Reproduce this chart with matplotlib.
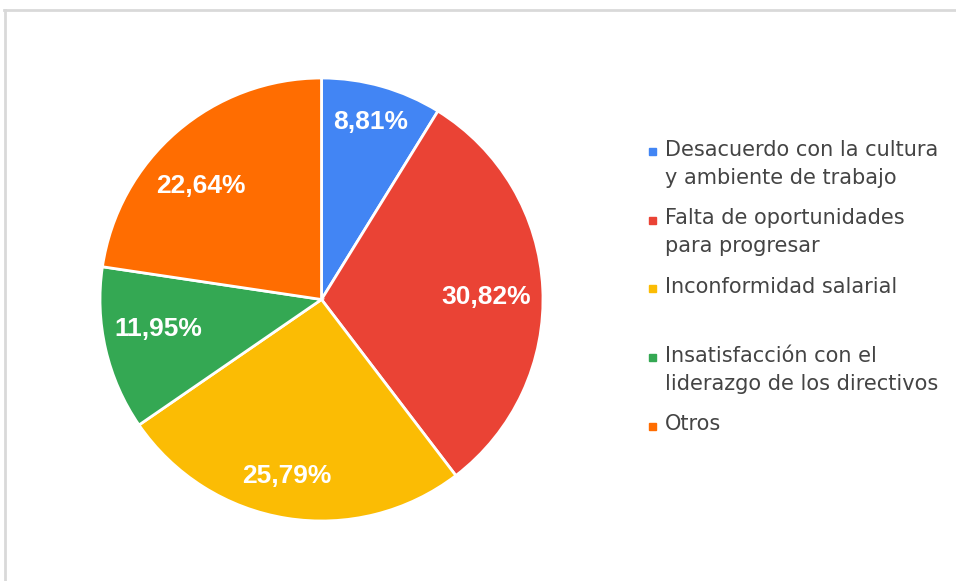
import numpy as np
import matplotlib.pyplot as plt
from matplotlib.lines import Line2D
from matplotlib.patches import Rectangle

plt.rcParams['font.family'] = ['Liberation Sans', 'DejaVu Sans']

labels = [
    "Desacuerdo con la cultura\ny ambiente de trabajo",
    "Falta de oportunidades\npara progresar",
    "Inconformidad salarial",
    "Insatisfacción con el\nliderazgo de los directivos",
    "Otros",
]
shares = [8.81, 30.82, 25.79, 11.95, 22.64]
colors = ["#4285F4", "#EA4335", "#FBBC04", "#34A853", "#FF6D01"]
# percentage labels: distance as a fraction of the radius, and a small
# angular nudge (degrees) away from the slice bisector
label_dist = [0.83, 0.745, 0.81, 0.75, 0.745]
label_nudge = [0.5, -1.8, -2.0, -2.6, 6.0]

W, H = 956, 581
fig = plt.figure(figsize=(W / 100, H / 100), dpi=100)

# pie area in pixels: center (321.5, 299.5), radius 221.5
cx, cy, r = 321.5, 299.5, 221.5
ax = fig.add_axes([(cx - r) / W, (H - cy - r) / H, 2 * r / W, 2 * r / H])
wedges, _, autotexts = ax.pie(
    shares, colors=colors, startangle=90, counterclock=False,
    autopct=lambda p: f"{p:.2f}%".replace(".", ","),
    wedgeprops=dict(edgecolor="white", linewidth=2),
    textprops=dict(color="white", fontsize=19, fontweight="bold"),
)
for w, t, d, n in zip(wedges, autotexts, label_dist, label_nudge):
    ang = np.deg2rad((w.theta1 + w.theta2) / 2 + n)
    t.set_position((d * np.cos(ang), d * np.sin(ang)))
ax.set_xlim(-1, 1)
ax.set_ylim(-1, 1)
ax.set_aspect("equal")
ax.axis("off")

# legend drawn by hand: one slot per entry, second line 28 px lower
for i, (lab, col) in enumerate(zip(labels, colors)):
    ym = 151.5 + 68.75 * i
    fig.patches.append(Rectangle((649 / W, 1 - (ym + 3.5) / H), 7 / W, 7 / H,
                                 transform=fig.transFigure, color=col))
    for j, line in enumerate(lab.split("\n")):
        fig.text(665 / W, 1 - (ym + 4 + 28 * j) / H, line, color="#444444",
                 fontsize=15, family="DejaVu Sans", va="baseline", ha="left")

# thin frame on the top and left edges
fig.add_artist(Line2D([4 / W, 1], [1 - 10 / H, 1 - 10 / H], color="#d9d9d9",
                      lw=2, transform=fig.transFigure))
fig.add_artist(Line2D([4.5 / W, 4.5 / W], [0, 1 - 10 / H], color="#d9d9d9",
                      lw=2, transform=fig.transFigure))

fig.savefig("out.png", dpi=100)
